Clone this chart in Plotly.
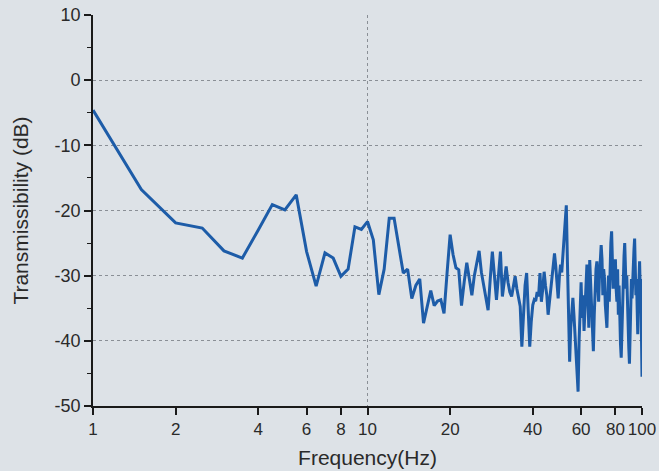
import plotly.graph_objects as go

freq = [
    1, 1.5, 2, 2.5, 3, 3.5, 4, 4.5, 5, 5.5,
    6, 6.5, 7, 7.5, 8, 8.5, 9, 9.5, 10, 10.5,
    11, 11.5, 12, 12.5, 13, 13.5, 14, 14.5, 15, 15.5,
    16, 16.5, 17, 17.5, 18, 18.5, 19, 19.5, 20, 20.5,
    21, 21.5, 22, 22.5, 23, 23.5, 24, 24.5, 25, 25.5,
    26, 26.5, 27, 27.5, 28, 28.5, 29, 29.5, 30, 30.5,
    31, 31.5, 32, 32.5, 33, 33.5, 34, 34.5, 35, 35.5,
    36, 36.5, 37, 37.5, 38, 38.5, 39, 39.5, 40, 40.5,
    41, 41.5, 42, 42.5, 43, 43.5, 44, 44.5, 45, 45.5,
    46, 46.5, 47, 47.5, 48, 48.5, 49, 49.5, 50, 50.5,
    51, 51.5, 52, 52.5, 53, 53.5, 54, 54.5, 55, 55.5,
    56, 56.5, 57, 57.5, 58, 58.5, 59, 59.5, 60, 60.5,
    61, 61.5, 62, 62.5, 63, 63.5, 64, 64.5, 65, 65.5,
    66, 66.5, 67, 67.5, 68, 68.5, 69, 69.5, 70, 70.5,
    71, 71.5, 72, 72.5, 73, 73.5, 74, 74.5, 75, 75.5,
    76, 76.5, 77, 77.5, 78, 78.5, 79, 79.5, 80, 80.5,
    81, 81.5, 82, 82.5, 83, 83.5, 84, 84.5, 85, 85.5,
    86, 86.5, 87, 87.5, 88, 88.5, 89, 89.5, 90, 90.5,
    91, 91.5, 92, 92.5, 93, 93.5, 94, 94.5, 95, 95.5,
    96, 96.5, 97, 97.5, 98, 98.5, 99, 99.5, 100,
]

transmissibility_db = [
    -4.6, -16.8, -21.9, -22.7, -26.2, -27.3, -23.0, -19.1, -19.9, -17.6,
    -26.3, -31.6, -26.5, -27.3, -30.1, -29.0, -22.5, -22.9, -21.7, -24.5,
    -32.9, -29.0, -21.2, -21.2, -25.5, -29.6, -29.0, -33.5, -31.5, -30.5,
    -37.3, -34.5, -32.3, -34.6, -33.9, -33.7, -35.8, -29.5, -23.7, -26.8,
    -28.8, -29.1, -34.6, -31.0, -28.0, -30.5, -33.0, -30.0, -28.0, -26.2,
    -29.5, -31.5, -33.5, -35.3, -30.5, -26.3, -30.0, -33.7, -30.0, -26.3,
    -33.2, -30.5, -28.6, -31.0, -32.5, -33.2, -31.5, -30.1, -32.0, -33.5,
    -34.7, -40.9, -36.0, -31.5, -29.6, -35.0, -40.9, -37.0, -34.5, -33.7,
    -33.9, -32.5, -33.2, -29.6, -34.0, -32.0, -29.4, -31.5, -33.0, -36.0,
    -34.0, -32.5, -30.5, -29.0, -26.6, -28.5, -31.0, -33.5, -30.2, -28.3,
    -29.5, -27.0, -25.0, -22.0, -19.2, -28.0, -36.5, -43.2, -38.0, -35.0,
    -33.4, -36.0, -39.0, -41.0, -45.0, -47.8, -40.0, -34.0, -31.0, -36.5,
    -33.0, -38.5, -34.0, -30.5, -28.3, -33.0, -38.0, -27.6, -31.0, -36.0,
    -39.5, -41.6, -36.0, -31.0, -29.0, -27.8, -31.5, -34.0, -30.0, -27.0,
    -25.3, -27.5, -33.0, -29.0, -30.4, -34.5, -36.0, -38.0, -33.5, -30.0,
    -34.0, -28.0, -25.0, -23.2, -27.0, -32.0, -30.4, -28.5, -27.5, -32.0,
    -34.0, -29.0, -36.0, -31.5, -38.5, -40.5, -42.6, -38.0, -32.0, -29.0,
    -27.0, -25.0, -28.0, -32.0, -30.0, -35.0, -38.5, -41.0, -43.5, -37.0,
    -33.0, -30.5, -33.5, -29.5, -27.8, -26.0, -24.3, -28.0, -33.0, -30.5,
    -35.0, -39.0, -34.0, -30.0, -27.8, -32.0, -30.5, -38.5, -45.5,
]

x_tick_vals = [1, 2, 4, 6, 8, 10, 20, 40, 60, 80, 100]
x_tick_text = ["1", "2", "4", "6", "8", "10", "20", "40", "60", "80", "100"]
y_tick_vals = [10, 0, -10, -20, -30, -40, -50]
y_tick_text = ["10", "0", "-10", "-20", "-30", "-40", "-50"]
y_grid_vals = [0, -10, -20, -30, -40]
x_grid_vals = [10]

FONT = "Liberation Sans, Arial, sans-serif"
BG = "#dde2e7"
GRID = "#8a8f96"

fig = go.Figure()

# invisible trace to host the grid-only overlay axes
fig.add_trace(go.Scatter(
    x=freq, y=transmissibility_db, xaxis="x2", yaxis="y2",
    mode="none", hoverinfo="skip", showlegend=False,
))

fig.add_trace(go.Scatter(
    x=freq, y=transmissibility_db,
    mode="lines",
    line=dict(color="#1d5ca8", width=3),
    showlegend=False,
))

fig.update_layout(
    width=659, height=471,
    margin=dict(l=93, r=17, t=15, b=65, autoexpand=False),
    paper_bgcolor=BG, plot_bgcolor=BG,
    font=dict(family=FONT, size=18, color="#2a2a2a"),
    xaxis=dict(
        type="log", range=[0, 2], automargin=False,
        tickvals=x_tick_vals, ticktext=x_tick_text,
        tickangle=0, tickfont=dict(size=17),
        ticks="outside", ticklen=7, tickwidth=1.5, tickcolor="#1a1a1a",
        showline=True, linecolor="#1a1a1a", linewidth=1.6,
        showgrid=False, zeroline=False,
        title=dict(text="Frequency(Hz)", font=dict(size=21, family=FONT), standoff=12),
    ),
    yaxis=dict(
        range=[-50, 10], automargin=False,
        tickvals=y_tick_vals, ticktext=y_tick_text,
        ticks="outside", ticklen=7, tickwidth=1.5, tickcolor="#1a1a1a",
        minor=dict(dtick=5, ticks="outside", ticklen=4, tickwidth=1.3, tickcolor="#1a1a1a", showgrid=False),
        showline=True, linecolor="#1a1a1a", linewidth=1.6,
        showgrid=False, zeroline=False,
        title=dict(text="Transmissibility (dB)", font=dict(size=21, family=FONT), standoff=20),
    ),
    xaxis2=dict(
        type="log", range=[0, 2], overlaying="x", anchor="y2", automargin=False,
        tickvals=x_grid_vals, showticklabels=False, ticks="",
        showgrid=True, gridcolor=GRID, gridwidth=1, griddash="dot",
        showline=False, zeroline=False,
    ),
    yaxis2=dict(
        range=[-50, 10], overlaying="y", anchor="x2", automargin=False,
        tickvals=y_grid_vals, showticklabels=False, ticks="",
        showgrid=True, gridcolor=GRID, gridwidth=1, griddash="dot",
        showline=False, zeroline=False,
    ),
)

fig.write_html(
    "out.html",
    config={"displayModeBar": False},
    post_script="document.body.style.margin='0';document.body.style.background='" + BG + "';",
)
